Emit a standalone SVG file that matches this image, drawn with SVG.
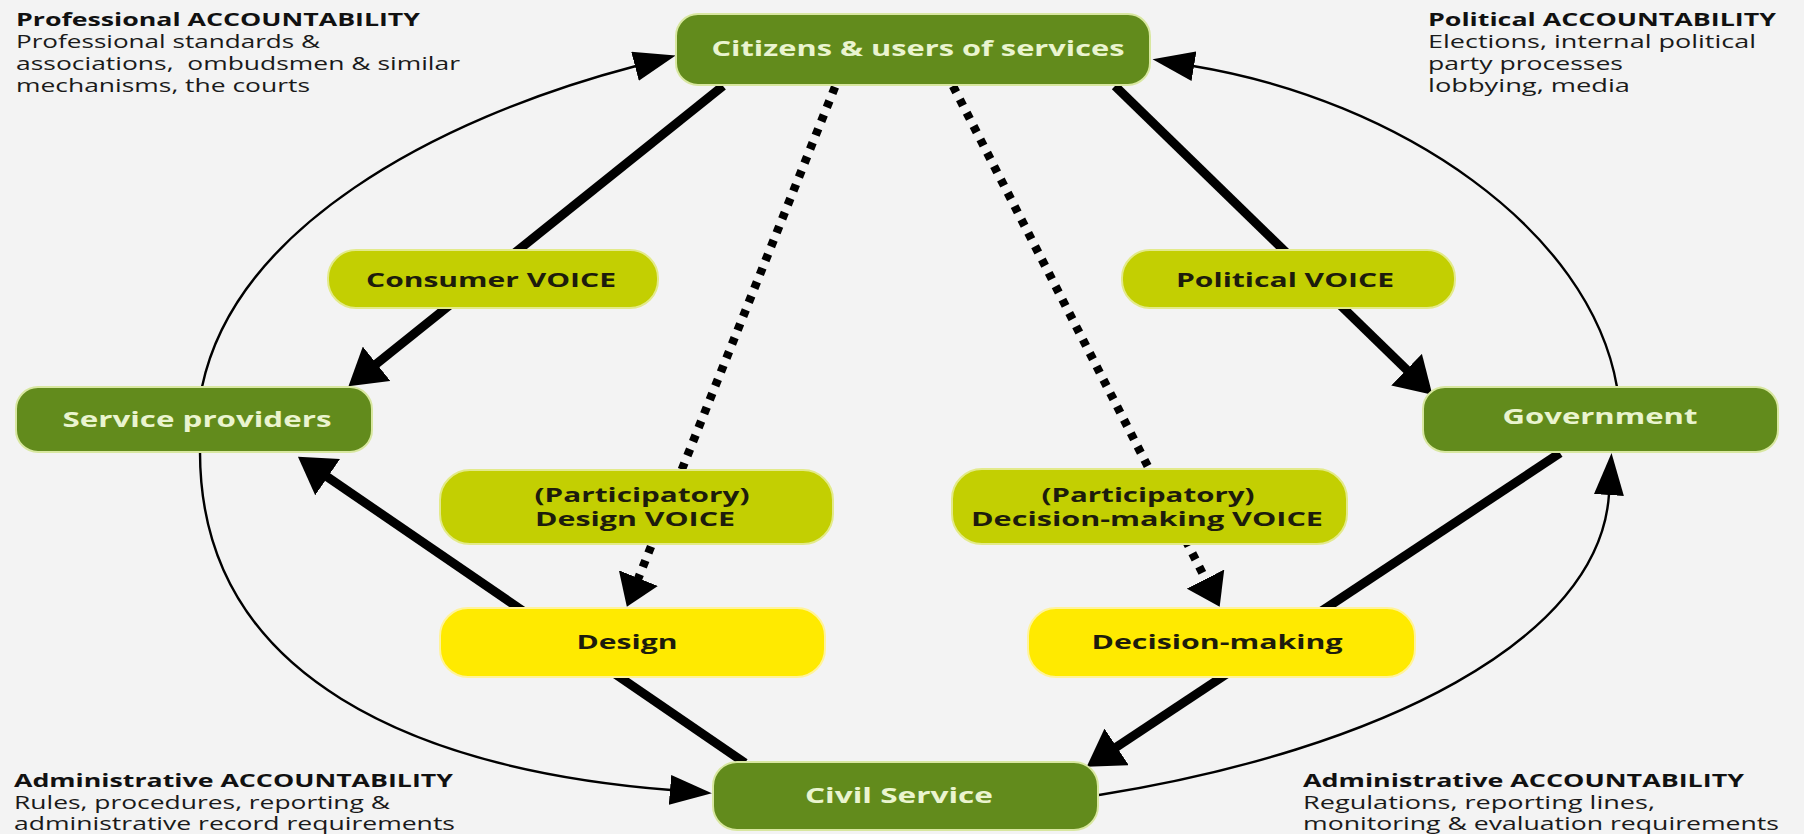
<svg xmlns="http://www.w3.org/2000/svg" width="1804" height="834" viewBox="0 0 1804 834">
  <defs>
    <style>
      .bg { fill: #f3f3f3; }
      .main { fill: #628b1c; stroke: #d8e7a0; stroke-width: 2; }
      .voice { fill: #c3cf02; stroke: #e3ea8a; stroke-width: 2; }
      .step { fill: #ffea00; stroke: #fff39a; stroke-width: 2; }
      .main-label { font-family: "Open Sans", "Liberation Sans", sans-serif; font-weight: bold; font-size: 21px; fill: #eaf4cf; text-anchor: middle; }
      .box-label { font-family: "Open Sans", "Liberation Sans", sans-serif; font-weight: bold; font-size: 20px; fill: #1d1c0c; text-anchor: middle; }
      .note { font-family: "Open Sans", "Liberation Sans", sans-serif; font-size: 18px; fill: #1a1a1a; }
      .note-title { font-weight: bold; fill: #111; }
      .thick { fill: none; stroke: #000; stroke-width: 9; }
      .thin { fill: none; stroke: #000; stroke-width: 2.4; }
      .dotted { fill: none; stroke: #000; stroke-width: 8.5; stroke-dasharray: 7 8; }
    </style>
    <marker id="arrow-thick" markerUnits="userSpaceOnUse" markerWidth="40" markerHeight="44" refX="2" refY="22" orient="auto">
      <path d="M0,0 L36,22 L0,44 z" fill="#000"/>
    </marker>
    <marker id="arrow-thin" markerUnits="userSpaceOnUse" markerWidth="44" markerHeight="30" refX="1" refY="15" orient="auto">
      <path d="M0,0 L42,15 L0,30 z" fill="#000"/>
    </marker>
    <marker id="arrow-dot" markerUnits="userSpaceOnUse" markerWidth="34" markerHeight="42" refX="1" refY="21" orient="auto">
      <path d="M0,0 L31,21 L0,42 z" fill="#000"/>
    </marker>
  </defs>

  <rect class="bg" x="0" y="0" width="1804" height="834"/>

  <!-- accountability notes in the four corners -->
  <g id="note-professional" class="note">
    <text x="16" y="26" class="note-title" textLength="404" lengthAdjust="spacingAndGlyphs">Professional ACCOUNTABILITY</text>
    <text x="16" y="48" textLength="304" lengthAdjust="spacingAndGlyphs">Professional standards &amp;</text>
    <text x="16" y="70" textLength="444" lengthAdjust="spacingAndGlyphs" xml:space="preserve">associations,  ombudsmen &amp; similar</text>
    <text x="16" y="92" textLength="294" lengthAdjust="spacingAndGlyphs">mechanisms, the courts</text>
  </g>
  <g id="note-political" class="note">
    <text x="1428" y="26" class="note-title" textLength="348" lengthAdjust="spacingAndGlyphs">Political ACCOUNTABILITY</text>
    <text x="1428" y="48" textLength="328" lengthAdjust="spacingAndGlyphs">Elections, internal political</text>
    <text x="1428" y="70" textLength="195" lengthAdjust="spacingAndGlyphs">party processes</text>
    <text x="1428" y="92" textLength="202" lengthAdjust="spacingAndGlyphs">lobbying, media</text>
  </g>
  <g id="note-administrative-left" class="note">
    <text x="14" y="787" class="note-title" textLength="439" lengthAdjust="spacingAndGlyphs">Administrative ACCOUNTABILITY</text>
    <text x="14" y="809" textLength="376" lengthAdjust="spacingAndGlyphs">Rules, procedures, reporting &amp;</text>
    <text x="14" y="830" textLength="441" lengthAdjust="spacingAndGlyphs">administrative record requirements</text>
  </g>
  <g id="note-administrative-right" class="note">
    <text x="1303" y="787" class="note-title" textLength="441" lengthAdjust="spacingAndGlyphs">Administrative ACCOUNTABILITY</text>
    <text x="1303" y="809" textLength="352" lengthAdjust="spacingAndGlyphs">Regulations, reporting lines,</text>
    <text x="1303" y="830" textLength="476" lengthAdjust="spacingAndGlyphs">monitoring &amp; evaluation requirements</text>
  </g>

  <!-- connectors -->
  <g id="connectors">
    <!-- outer accountability loop -->
    <path class="thin" d="M202,387 C235,230 430,120 636,66" marker-end="url(#arrow-thin)"/>
    <path class="thin" d="M1617,387 C1590,230 1400,100 1193,66" marker-end="url(#arrow-thin)"/>
    <path class="thin" d="M200,452 C200,680 420,770 671,790" marker-end="url(#arrow-thin)"/>
    <path class="thin" d="M1099,795 C1380,750 1600,640 1609,494" marker-end="url(#arrow-thin)"/>
    <!-- voice routes -->
    <path class="thick" d="M723,86 L375,365" marker-end="url(#arrow-thick)"/>
    <path class="thick" d="M1115,86 L1408,371" marker-end="url(#arrow-thick)"/>
    <path class="thick" d="M745,763 L326,476" marker-end="url(#arrow-thick)"/>
    <path class="thick" d="M1560,453 L1115,748" marker-end="url(#arrow-thick)"/>
    <!-- participatory routes -->
    <path class="dotted" d="M835,87 L638,579" marker-end="url(#arrow-dot)"/>
    <path class="dotted" d="M953,86 L1206,580" marker-end="url(#arrow-dot)"/>
  </g>

  <!-- nodes -->
  <g id="citizens">
    <rect class="main" x="676" y="14" width="474" height="71" rx="22"/>
    <text class="main-label" x="918" y="56" textLength="413" lengthAdjust="spacingAndGlyphs">Citizens &amp; users of services</text>
  </g>
  <g id="consumer-voice">
    <rect class="voice" x="328" y="250" width="330" height="58" rx="28"/>
    <text class="box-label" x="491" y="287" textLength="250" lengthAdjust="spacingAndGlyphs">Consumer VOICE</text>
  </g>
  <g id="political-voice">
    <rect class="voice" x="1122" y="250" width="333" height="58" rx="28"/>
    <text class="box-label" x="1285" y="287" textLength="218" lengthAdjust="spacingAndGlyphs">Political VOICE</text>
  </g>
  <g id="service-providers">
    <rect class="main" x="16" y="387" width="356" height="65" rx="22"/>
    <text class="main-label" x="197" y="427" textLength="269" lengthAdjust="spacingAndGlyphs">Service providers</text>
  </g>
  <g id="government">
    <rect class="main" x="1423" y="387" width="355" height="65" rx="22"/>
    <text class="main-label" x="1600" y="424" textLength="195" lengthAdjust="spacingAndGlyphs">Government</text>
  </g>
  <g id="design-voice">
    <rect class="voice" x="440" y="470" width="393" height="74" rx="30"/>
    <text class="box-label" x="642" y="502" textLength="215" lengthAdjust="spacingAndGlyphs">(Participatory)</text>
    <text class="box-label" x="635" y="526" textLength="200" lengthAdjust="spacingAndGlyphs">Design VOICE</text>
  </g>
  <g id="decision-voice">
    <rect class="voice" x="952" y="469" width="395" height="75" rx="30"/>
    <text class="box-label" x="1148" y="502" textLength="213" lengthAdjust="spacingAndGlyphs">(Participatory)</text>
    <text class="box-label" x="1147" y="526" textLength="352" lengthAdjust="spacingAndGlyphs">Decision-making VOICE</text>
  </g>
  <g id="design">
    <rect class="step" x="440" y="608" width="385" height="69" rx="28"/>
    <text class="box-label" x="627" y="649" textLength="101" lengthAdjust="spacingAndGlyphs">Design</text>
  </g>
  <g id="decision-making">
    <rect class="step" x="1028" y="608" width="387" height="69" rx="28"/>
    <text class="box-label" x="1217" y="649" textLength="251" lengthAdjust="spacingAndGlyphs">Decision-making</text>
  </g>
  <g id="civil-service">
    <rect class="main" x="713" y="762" width="385" height="68" rx="24"/>
    <text class="main-label" x="899" y="803" textLength="188" lengthAdjust="spacingAndGlyphs">Civil Service</text>
  </g>
</svg>
